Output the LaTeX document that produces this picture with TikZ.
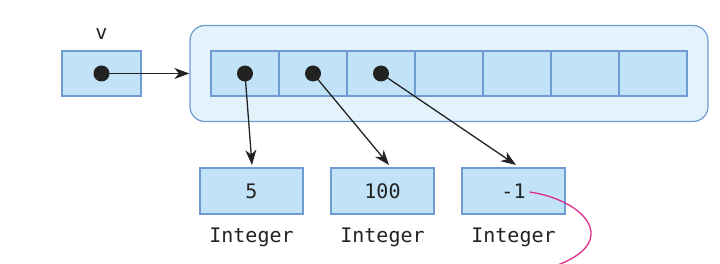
\documentclass[tikz,border=0pt]{standalone}
\usepackage{fontspec}
\setmonofont{DejaVu Sans Mono}
\usepackage{xcolor}
\usepackage{tikz}
\usetikzlibrary{arrows.meta, positioning, calc}

\definecolor{cellfill}{RGB}{194,227,247}
\definecolor{cellline}{RGB}{110,155,210}
\definecolor{outerfill}{RGB}{228,242,252}
\definecolor{inkdark}{RGB}{34,34,34}
\definecolor{callout}{RGB}{220,45,140}

\begin{document}
\begin{tikzpicture}[x=1pt, y=-1pt, >={Stealth[length=15pt, width=11pt, inset=4.5pt]},
            font=\ttfamily\fontsize{20}{23}\selectfont, text=inkdark,
            cellbox/.style={draw=cellline, fill=cellfill, line width=1.2pt, rectangle, minimum height=45pt, minimum width=68pt, outer sep=0pt},
            outerbox/.style={draw=cellline, fill=outerfill, line width=1.2pt, rounded corners=15pt, minimum height=96pt, minimum width=518pt},
            dot/.style={circle, fill=inkdark, inner sep=0pt, minimum size=16pt},
            ptr/.style={->, draw=inkdark, line width=1.3pt}]

            \useasboundingbox (0,0) rectangle (720,264);

            % the variable
            \node[cellbox, minimum width=79pt] (vbox) at (101.5,73.5) {};
            \node[above=8pt of vbox] (vname) {v};
            \node[dot] (vdot) at (vbox) {};

            % the array with its seven cells
            \node[outerbox] (arr) at (449,73.5) {};
            \foreach \i in {1,...,7}
                \node[cellbox] (c\i) at ({177+68*\i},73.5) {};
            \foreach \i in {1,2,3}
                \node[dot] (d\i) at (c\i) {};

            % the Integer objects
            \node[cellbox, minimum width=103pt, minimum height=46pt] (n1) at (251.5,191) {5};
            \node[cellbox, minimum width=103pt, minimum height=46pt, right=28pt of n1] (n2) {100};
            \node[cellbox, minimum width=103pt, minimum height=46pt, right=28pt of n2] (n3) {-1};
            \foreach \i in {1,2,3}
                \node[below=10pt of n\i] (t\i) {Integer};

            \draw[ptr] (vdot.center) -- (arr.west);
            \draw[ptr] (d1.center) -- ([xshift=0.5pt, yshift=3pt]n1.north);
            \draw[ptr] (d2.center) -- ([xshift=6.5pt, yshift=3pt]n2.north);
            \draw[ptr] (d3.center) -- ([xshift=2.5pt, yshift=3pt]n3.north);

            % callout leaving the picture
            \coordinate (off) at (555,266);
            \draw[callout, line width=1.3pt] ([xshift=16pt, yshift=-1pt]n3.center) .. controls (585,200) and (622,242) .. (off);
        \end{tikzpicture}
\end{document}
